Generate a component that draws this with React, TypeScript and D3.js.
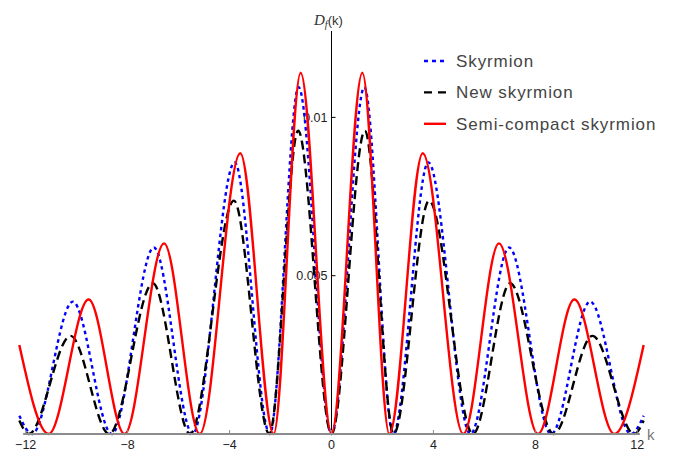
import React from "react";
import * as d3 from "d3";

// Semi-compact skyrmion (red, solid)
const kRed = [-12.25, -11.1, -9.53, -8.12, -6.57, -5.17, -3.58, -2.27, -1.21, 0, 1.21, 2.27, 3.58, 5.17, 6.57, 8.1, 9.53, 11.1, 12.25];
const vRed = [0.00281, 0, 0.00425, 0, 0.00602, 0, 0.00887, 0, 0.01141, 0, 0.01141, 0, 0.00887, 0, 0.00602, 0, 0.00425, 0, 0.00281];

// Skyrmion (blue, dotted)
const kBlue = [-12.25, -11.75, -10.15, -8.62, -6.97, -5.45, -3.8, -2.42, -1.29, 0, 1.29, 2.42, 3.8, 5.45, 6.97, 8.62, 10.15, 11.75, 12.25];
const vBlue = [0.00058, 0, 0.00418, 0, 0.00589, 0, 0.00858, 0, 0.01095, 0, 0.01095, 0, 0.00858, 0, 0.00589, 0, 0.00418, 0, 0.00058];

// New skyrmion (black, dashed)
const kBlack = [-12.25, -11.88, -10.24, -8.72, -7.01, -5.55, -3.83, -2.44, -1.31, 0, 1.31, 2.44, 3.83, 5.55, 7.01, 8.72, 10.24, 11.88, 12.25];
const vBlack = [0.00043, 0, 0.0031, 0, 0.00476, 0, 0.00737, 0, 0.00958, 0, 0.00958, 0, 0.00737, 0, 0.00476, 0, 0.0031, 0, 0.00043];

const xTicks = [-12, -8, -4, 0, 4, 8, 12];
const xTickLabels = ["\u221212", "\u22128", "\u22124", "0", "4", "8", "12"];
const yTicks = [0.005, 0.01];
const yTickLabels = ["0.005", "0.01"];

const legendNames = ["Skyrmion", "New skyrmion", "Semi-compact skyrmion"];

export default function App() {
  const W = 680, H = 451;
  const x = d3.scaleLinear().domain([-12, 12]).range([25.7, 637.3]);
  const y = d3.scaleLinear().domain([0, 0.01]).range([434, 117.4]);

  const mk = (ks: number[], vs: number[]) =>
    d3.line<number>().x((_, i) => x(ks[i])).y((v) => y(v)).curve(d3.curveMonotoneX)(vs) || "";

  const series = [
    { d: mk(kBlue, vBlue), color: "#0000ff", dash: "3.5,3.5", name: legendNames[0] },
    { d: mk(kBlack, vBlack), color: "#000000", dash: "9,5", name: legendNames[1] },
    { d: mk(kRed, vRed), color: "#ff0000", dash: "none", name: legendNames[2] },
  ];

  const x0 = x(0);
  const font = "'Liberation Sans', Arial, sans-serif";

  return (
    <svg width={W} height={H} style={{ position: "absolute", left: 0, top: 0, background: "#fff" }}>
      {/* y axis */}
      <line x1={x0} x2={x0} y1={31} y2={434} stroke="#000" strokeWidth={1} />
      {yTicks.map((t, i) => (
        <g key={t}>
          <line x1={x0} x2={x0 + 4} y1={y(t)} y2={y(t)} stroke="#000" strokeWidth={1} />
          <text x={x0 - 4} y={y(t) + 4.5} textAnchor="end" fontFamily={font} fontSize={12.5} fill="#222">
            {yTickLabels[i]}
          </text>
        </g>
      ))}
      <text x={314} y={25} fontFamily="'Liberation Serif', 'DejaVu Serif', serif" fontSize={15} fill="#333">
        <tspan fontStyle="italic">D</tspan>
        <tspan fontSize={10} dy={3} fontStyle="italic">f</tspan>
        <tspan dy={-3} fontFamily={font} fontSize={13}>(k)</tspan>
      </text>

      {/* curves */}
      {series.map((s) => (
        <path key={s.name} d={s.d} fill="none" stroke={s.color} strokeWidth={2.4}
          strokeDasharray={s.dash} strokeLinecap="butt" />
      ))}

      {/* x axis */}
      <line x1={x(-12.1)} x2={x(12.1)} y1={434} y2={434} stroke="#8c8c8c" strokeWidth={2} />
      {xTicks.map((t, i) => (
        <g key={t}>
          <line x1={x(t)} x2={x(t)} y1={434} y2={430} stroke="#8c8c8c" strokeWidth={1} />
          <text x={x(t)} y={449} textAnchor="middle" fontFamily={font} fontSize={12.5} fill="#222">
            {xTickLabels[i]}
          </text>
        </g>
      ))}
      <text x={647} y={440} fontFamily={font} fontSize={15} fill="#777">k</text>

      {/* legend */}
      {series.map((s, i) => (
        <g key={"lg" + i}>
          <line x1={424} x2={446} y1={61 + i * 31.4} y2={61 + i * 31.4} stroke={s.color} strokeWidth={2.4}
            strokeDasharray={s.dash === "none" ? "none" : i === 0 ? "4,4" : "8,6"} />
          <text x={456} y={67 + i * 31.4} fontFamily={font} fontSize={17} letterSpacing={0.9} fill="#444">
            {s.name}
          </text>
        </g>
      ))}
    </svg>
  );
}
